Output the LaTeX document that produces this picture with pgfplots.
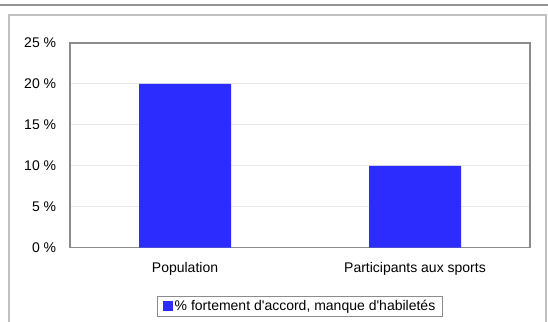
\documentclass[border=0pt]{standalone}
\usepackage{pgfplots}
\pgfplotsset{compat=1.18}
\usepackage{fontspec}
\setmainfont{Liberation Sans}
\definecolor{barblue}{RGB}{44,44,255}
\definecolor{framegray}{RGB}{192,192,192}
\definecolor{axisgray}{RGB}{140,140,140}
\definecolor{gridgray}{RGB}{232,232,232}
\begin{document}
\fontsize{14bp}{17bp}\selectfont
\begin{tikzpicture}
\useasboundingbox (0,0) rectangle (548bp,322bp);
\fill[white] (0,0) rectangle (548bp,322bp);
\draw[line width=1.5bp, color=black!42] (0,317bp) -- (548bp,317bp);
\draw[line width=1.5bp, color=framegray] (9bp,0) -- (9bp,307bp) -- (546bp,307bp) -- (546bp,0);
\begin{axis}[
  at={(70bp,74.3bp)}, anchor=south west,
  scale only axis, width=460bp, height=204.7bp,
  xmin=-0.5, xmax=1.5, ymin=0, ymax=25,
  ybar, bar width=92bp, bar shift=0pt,
  xtick={0,1}, xticklabels={Population, Participants aux sports},
  ytick={0,5,10,15,20,25},
  yticklabel={\pgfmathprintnumber{\tick}~\%},
  /pgf/number format/assume math mode=true,
  major tick length=0pt,
  ymajorgrids, grid style={gridgray, line width=1bp},
  axis line style={axisgray, line width=1.3bp},
  yticklabel style={xshift=-9bp, font=\fontsize{14bp}{17bp}\selectfont},
  xticklabel style={yshift=-9.5bp, font=\fontsize{14bp}{17bp}\selectfont},
  legend style={at={(0.5,-0.287)}, anchor=center, draw=axisgray, line width=0.8bp,
    font=\fontsize{14bp}{17bp}\selectfont, inner xsep=5bp, inner ysep=1.5bp},
  legend image code/.code={\fill[barblue] (-4bp,-5bp) rectangle (6bp,5bp);},
]
\addplot[fill=barblue, draw=none] coordinates {(0,20) (1,10)};
\addlegendentry{\% fortement d\textquotesingle accord, manque d\textquotesingle habiletés}
\end{axis}
\end{tikzpicture}
\end{document}
